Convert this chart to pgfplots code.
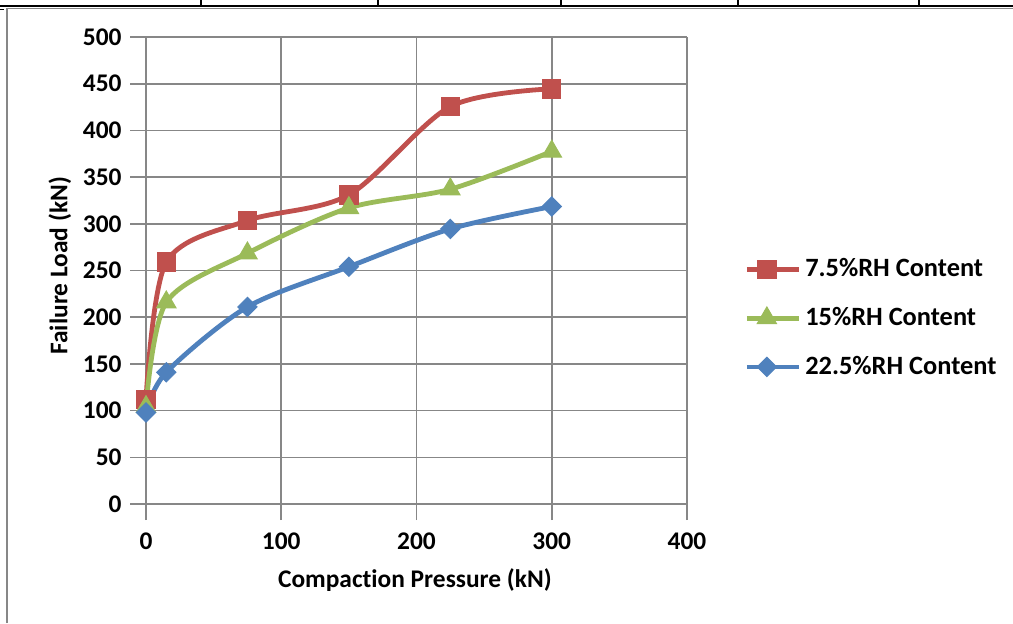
\documentclass[border=0pt]{standalone}
\usepackage{fontspec}
\setmainfont{Carlito}[Ligatures=NoCommon]
\usepackage{pgfplots}
\pgfplotsset{compat=1.18}
\definecolor{cred}{HTML}{C0504D}
\definecolor{cgreen}{HTML}{9BBB59}
\definecolor{cblue}{HTML}{4F81BD}
\definecolor{cgrid}{HTML}{878787}
\newcommand{\cf}{\fontsize{12.7}{15}\selectfont\bfseries}
\newcommand{\lf}{\fontsize{13.2}{15.5}\selectfont\bfseries}
\begin{document}
\begin{tikzpicture}
\useasboundingbox (0,0) rectangle (506.5pt,311.5pt);
\fill[white] (0,0) rectangle (506.5pt,311.5pt);
% surrounding table frame
\draw[black, line width=0.6pt] (0,308.5pt) -- (506.5pt,308.5pt);
\foreach \x in {201,378,561,738,919} \draw[black, line width=0.6pt] (\x*0.5pt,308.5pt) -- (\x*0.5pt,311.5pt);
\draw[cgrid, line width=0.8pt] (3.5pt,0) -- (3.5pt,307.3pt) -- (506.5pt,307.3pt);
\draw[black, line width=0.6pt] (0,306.8pt) -- (2pt,306.8pt);
\begin{axis}[
  at={(73pt,59.5pt)}, anchor=south west,
  scale only axis, width=270.5pt, height=233.5pt,
  xmin=0, xmax=400, ymin=0, ymax=500,
  xtick={0,100,200,300,400}, ytick={0,50,...,500},
  axis line style={cgrid, line width=0.8pt},
  axis x line*=bottom, axis y line*=left,
  grid=major, grid style={cgrid, line width=0.8pt},
  major tick length=8pt,
  tick style={cgrid, line width=0.8pt},
  tick align=outside,
  xtick pos=bottom, ytick pos=left,
  /pgf/number format/assume math mode=true,
  every tick label/.append style={font=\cf},
  yticklabel style={inner sep=0pt, xshift=-4pt},
  xticklabel style={inner sep=0pt, yshift=-6pt},
  xlabel={Compaction Pressure (kN)},
  ylabel={Failure Load (kN)},
  xlabel style={font=\cf, at={(axis description cs:0.497,-0.163)}, anchor=center},
  ylabel style={font=\cf, at={(axis description cs:-0.159,0.51)}, anchor=center, rotate=0},
  legend style={font=\lf, draw=none, fill=none, at={(1.1055,0.398)}, anchor=west, inner sep=0pt, row sep=9.8pt, cells={anchor=west}},
  legend image code/.code={\draw[mark repeat=2,mark phase=2,#1] plot coordinates {(0pt,0pt) (10pt,0pt) (26pt,0pt)};},
  clip=false,
]
\addplot[cred, line width=2.4pt, smooth, tension=0.5, mark=square*, mark size=4.6pt, mark options={solid, line width=0.5pt, fill=cred, draw=cred}]
 coordinates {(0,112) (15,259) (75,303.5) (150,331) (225,425.5) (300,444.5)};
\addlegendentry{7.5\%RH Content}
\addplot[cgreen, line width=2.4pt, smooth, tension=0.5, mark=triangle*, mark size=5.6pt, mark options={solid, line width=0.5pt, fill=cgreen, draw=cgreen}]
 coordinates {(0,104) (15,216) (75,268.5) (150,317) (225,337) (300,377.5)};
\addlegendentry{15\%RH Content}
\addplot[cblue, line width=2.4pt, smooth, tension=0.5, mark=square*, mark size=3.4pt, mark options={solid, line width=0.5pt, rotate=45, fill=cblue, draw=cblue}]
 coordinates {(0,98) (15,141) (75,211) (150,254) (225,294.5) (300,318.5)};
\addlegendentry{22.5\%RH Content}
\end{axis}
\end{tikzpicture}
\end{document}
